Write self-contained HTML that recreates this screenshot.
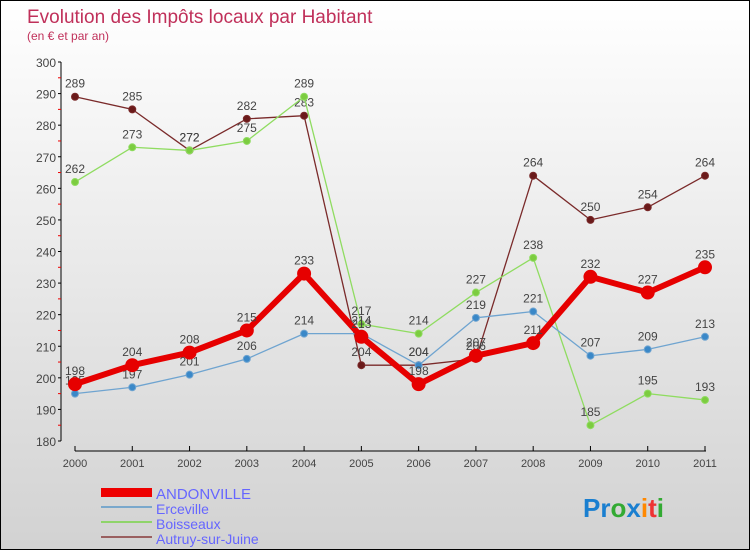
<!DOCTYPE html><html><head><meta charset="utf-8"><style>
body{margin:0}
#c{width:750px;height:550px;position:relative;box-sizing:border-box;border:1px solid #000;background:linear-gradient(#fff,#d2d2d2);font-family:"Liberation Sans",sans-serif;overflow:hidden}
</style></head><body>
<div id="c">
<svg width="748" height="548">
<text x="26" y="22" font-size="19" fill="#c0305a">Evolution des Impôts locaux par Habitant</text>
<text x="26" y="39" font-size="12" fill="#c0305a">(en € et par an)</text>
<g id="axes"></g><g id="series"></g>
<g>
<rect x="100" y="487" width="51" height="9" fill="#e00"/>
<text x="155" y="498" font-size="15" fill="#66f">ANDONVILLE</text>
<line x1="100" y1="506" x2="151" y2="506" stroke="#7aa8cc" stroke-width="2"/>
<text x="155" y="513" font-size="14" fill="#66f">Erceville</text>
<line x1="100" y1="521" x2="151" y2="521" stroke="#8fd46a" stroke-width="2"/>
<text x="155" y="528" font-size="14" fill="#66f">Boisseaux</text>
<line x1="100" y1="536" x2="151" y2="536" stroke="#9a6060" stroke-width="2"/>
<text x="155" y="543" font-size="14" fill="#66f">Autruy-sur-Juine</text>
</g>
<text x="582" y="516" font-size="26" font-weight="bold"><tspan fill="#1a7fd0">Pr</tspan><tspan fill="#3a3">o</tspan><tspan fill="#1a7fd0">x</tspan><tspan fill="#f80">i</tspan><tspan fill="#e33">t</tspan><tspan fill="#3a3">i</tspan></text>
</svg></div>
<script>
const years=["2000","2001","2002","2003","2004","2005","2006","2007","2008","2009","2010","2011"];
const andonville=[198,204,208,215,233,213,198,207,211,232,227,235];
const erceville=[195,197,201,206,214,214,204,219,221,207,209,213];
const boisseaux=[262,273,272,275,289,217,214,227,238,185,195,193];
const autruy=[289,285,272,282,283,204,204,206,264,250,254,264];
const yTicks=[180,190,200,210,220,230,240,250,260,270,280,290,300];
const NS="http://www.w3.org/2000/svg";
const xs=i=>74+i*(630/11);
const ys=v=>440-(v-180)*(379/120);
function mk(tag,at,parent){const e=document.createElementNS(NS,tag);for(const k in at)e.setAttribute(k,at[k]);parent.appendChild(e);return e;}
const ax=document.getElementById('axes');
let a=mk('line',{x1:60,y1:ys(300),x2:60,y2:ys(180),stroke:'#000'},ax);


yTicks.forEach(v=>{
 mk('line',{x1:57,y1:ys(v),x2:60,y2:ys(v),stroke:'#000'},ax);
 if(v<300) mk('line',{x1:57,y1:ys(v+5),x2:60,y2:ys(v+5),stroke:'#e00'},ax);
 const t=mk('text',{x:55,y:ys(v)+5,'font-size':12,fill:'#444','text-anchor':'end'},ax);t.textContent=v;
 
 
});
a=mk('line',{x1:74,y1:450,x2:705,y2:450,stroke:'#000'},ax);


years.forEach((y,i)=>{
 mk('line',{x1:xs(i),y1:445,x2:xs(i),y2:450,stroke:'#000'},ax);
 const t=mk('text',{x:xs(i),y:466,'font-size':11,fill:'#444','text-anchor':'middle'},ax);t.textContent=y;
 
 
});
const sg=document.getElementById('series');
function draw(data,name,color,w,r,fill){
 const g=mk('g',{},sg);
 
 
 mk('polyline',{points:data.map((v,i)=>xs(i)+','+ys(v)).join(' '),fill:'none',stroke:color,'stroke-width':w,'stroke-linejoin':'round'},g);
 data.forEach((v,i)=>{
  const c=mk('circle',{cx:xs(i),cy:ys(v),r:r,fill:fill,stroke:color,'stroke-width':1},g);
  
  
  const t=mk('text',{x:xs(i),y:ys(v)-9,'font-size':12,fill:'#444','text-anchor':'middle'},g);t.textContent=v;
  
  
 });
}
draw(autruy,'autruy','#7a2a2a',1.3,3.5,'#6a1a1a');
draw(boisseaux,'boisseaux','#8fdc60',1.3,3.5,'#7ccc40');
draw(erceville,'erceville','#6fa4d0',1.3,3.5,'#3a88c8');
draw(andonville,'andonville','#e60000',6,6.5,'#e60000');
</script></body></html>
